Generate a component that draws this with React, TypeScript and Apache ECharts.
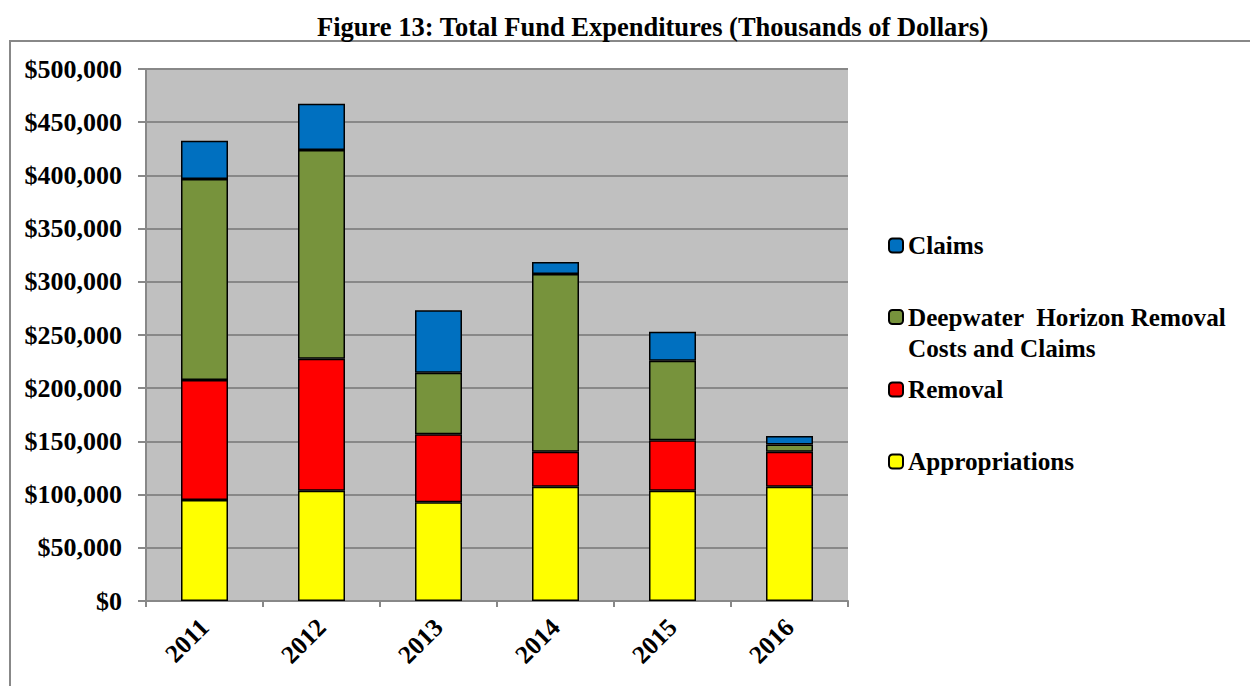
import React, { useEffect, useRef } from "react";
import * as echarts from "echarts";

const years = ["2011", "2012", "2013", "2014", "2015", "2016"];
const appropriations = [95000, 103700, 92800, 107400, 103700, 107400];
const removal = [112700, 124000, 63900, 32900, 47300, 32900];
const deepwater = [188900, 196200, 57900, 167000, 74800, 6900];
const claims = [36000, 43500, 58600, 11300, 27300, 7900];

const seriesNames = [
  "Appropriations",
  "Removal",
  "Deepwater Horizon Removal Costs and Claims",
  "Claims",
];
const seriesColors = ["#FFFF00", "#FF0000", "#77933C", "#0070C0"];
const yTicks = { min: 0, max: 500000, interval: 50000 };

const FONT = "'Liberation Serif', 'Times New Roman', serif";

export default function App() {
  const ref = useRef<HTMLDivElement>(null);
  useEffect(() => {
    if (!ref.current) return;
    const chart = echarts.init(ref.current, undefined, { renderer: "svg" });
    const dataSets = [appropriations, removal, deepwater, claims];
    const legendText = (name: string) =>
      name === seriesNames[2]
        ? "\nDeepwater  Horizon Removal\nCosts and Claims"
        : name;
    const legendDefs = [
      { name: seriesNames[3], top: 233, lh: 24 },
      { name: seriesNames[2], top: 270.5, lh: 31 },
      { name: seriesNames[1], top: 377, lh: 24 },
      { name: seriesNames[0], top: 449, lh: 24 },
    ];
    chart.setOption({
      animation: false,
      title: {
        text: "Figure 13: Total Fund Expenditures (Thousands of Dollars)",
        left: 312,
        top: 8,
        textStyle: {
          fontFamily: FONT,
          fontWeight: "bold",
          fontSize: 26.5,
          color: "#000",
        },
      },
      graphic: [
        {
          type: "rect",
          shape: { x: 10, y: 41, width: 1260, height: 700 },
          style: { fill: "none", stroke: "#888", lineWidth: 2 },
          silent: true,
        },
      ],
      legend: legendDefs.map((d) => ({
        data: [d.name],
        orient: "vertical",
        left: 888,
        top: d.top,
        itemWidth: 14,
        itemHeight: 14,
        padding: 0,
        selectedMode: false,
        formatter: legendText,
        textStyle: {
          fontFamily: FONT,
          fontWeight: "bold",
          fontSize: 25.2,
          color: "#000",
          lineHeight: d.lh,
        },
      })),
      grid: {
        left: 146,
        right: 402,
        top: 69,
        bottom: 85,
        show: true,
        backgroundColor: "#C0C0C0",
        borderWidth: 0,
      },
      xAxis: {
        type: "category",
        data: years,
        axisLine: { lineStyle: { color: "#888", width: 2 } },
        axisTick: { show: true, length: 6, lineStyle: { color: "#888", width: 2 } },
        axisLabel: {
          rotate: 45,
          margin: 22,
          fontFamily: FONT,
          fontWeight: "bold",
          fontSize: 25.5,
          color: "#000",
        },
      },
      yAxis: {
        type: "value",
        min: yTicks.min,
        max: yTicks.max,
        interval: yTicks.interval,
        axisLine: { show: true, lineStyle: { color: "#888", width: 2 } },
        axisTick: { show: true, length: 8, lineStyle: { color: "#888", width: 2 } },
        splitLine: { lineStyle: { color: "#888", width: 2 } },
        axisLabel: {
          margin: 24,
          fontFamily: FONT,
          fontWeight: "bold",
          fontSize: 26,
          color: "#000",
          formatter: (v: number) => "$" + v.toLocaleString("en-US"),
        },
      },
      series: seriesNames.map((name, i) => ({
        name,
        type: "bar",
        stack: "total",
        barWidth: 47,
        data: dataSets[i],
        itemStyle: {
          color: seriesColors[i],
          borderColor: "#000",
          borderWidth: 1.5,
        },
      })),
    });
    return () => chart.dispose();
  }, []);
  return (
    <div
      ref={ref}
      style={{ position: "fixed", left: 0, top: 0, width: 1250, height: 686, background: "#fff" }}
    />
  );
}
